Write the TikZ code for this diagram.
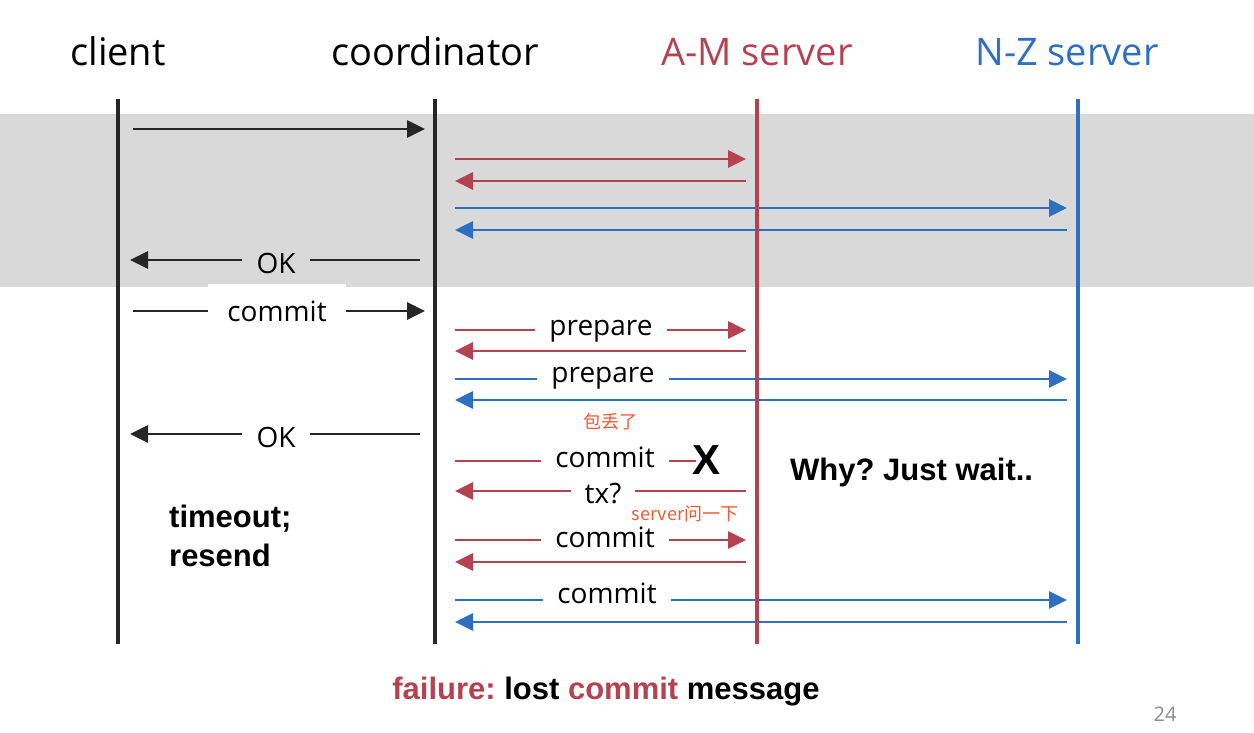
\documentclass[tikz,border=0pt]{standalone}
\usepackage{fontspec}
\setmainfont{Open Sans}
\newfontfamily\arialfont{Liberation Sans}
\newfontfamily\cjk{Noto Sans CJK SC}
\usetikzlibrary{arrows.meta}
\definecolor{amred}{RGB}{180,66,80}
\definecolor{nzblue}{RGB}{47,111,191}
\definecolor{lifeblack}{RGB}{38,38,38}
\definecolor{bandgrey}{RGB}{217,217,217}
\definecolor{noteorange}{RGB}{238,90,54}
\definecolor{pagegrey}{RGB}{140,140,140}
\frenchspacing
\begin{document}
\begin{tikzpicture}[x=1pt,y=-1pt,
  life/.style={line width=4.5pt},
  msg/.style={line width=2.8pt},
  tip/.style={-{Triangle[length=18pt,width=17pt]}},
  lbl/.style={font=\fontsize{28}{28}\selectfont, inner xsep=14pt, inner ysep=0pt, anchor=base, text=black},
  head/.style={font=\fontsize{38}{38}\selectfont, anchor=base, inner sep=0pt},
  boldtxt/.style={font=\arialfont\bfseries\fontsize{31}{31}\selectfont, inner sep=0pt},
  note/.style={font=\cjk\fontsize{18}{18}\selectfont, text=noteorange, anchor=base, inner sep=0pt}]
\useasboundingbox (0,0) rectangle (1254,732);
\fill[bandgrey] (0,114) rectangle (1254,287);

% headers
\node[head] (hClient) at (118,65) {client};
\node[head] (hCoord) at (435,65) {coordinator};
\node[head, text=amred] (hAM) at (757,65) {A-M server};
\node[head, text=nzblue] (hNZ) at (1067,65) {N-Z server};

% message 1
\coordinate (m1s) at (133,129); \coordinate (m1e) at (425,129);
\draw[msg, lifeblack, tip] (m1s) -- (m1e);
% messages 2-5
\coordinate (m2s) at (455,159); \coordinate (m2e) at (746,159);
\draw[msg, amred, tip] (m2s) -- (m2e);
\coordinate (m3s) at (746,181); \coordinate (m3e) at (455,181);
\draw[msg, amred, tip] (m3s) -- (m3e);
\coordinate (m4s) at (455,208); \coordinate (m4e) at (1067,208);
\draw[msg, nzblue, tip] (m4s) -- (m4e);
\coordinate (m5s) at (1067,230); \coordinate (m5e) at (455,230);
\draw[msg, nzblue, tip] (m5s) -- (m5e);

% message 6: OK
\coordinate (m6s) at (420,260); \coordinate (m6e) at (130,260);
\node[lbl] (l6) at (276,273) {OK};
\draw[msg, lifeblack] (m6s) -- (m6s -| l6.east);
\draw[msg, lifeblack, tip] (m6s -| l6.west) -- (m6e);

% message 7: commit
\coordinate (m7s) at (133,311); \coordinate (m7e) at (425,311);
\node[lbl, fill=white, inner ysep=16pt, inner xsep=19pt] (l7) at (277,321) {commit};
\draw[msg, lifeblack] (m7s) -- (m7s -| l7.west);
\draw[msg, lifeblack, tip] (m7s -| l7.east) -- (m7e);

% message 8: prepare (A-M)
\coordinate (m8s) at (455,330); \coordinate (m8e) at (746,330);
\node[lbl] (l8) at (601,335) {prepare};
\draw[msg, amred] (m8s) -- (m8s -| l8.west);
\draw[msg, amred, tip] (m8s -| l8.east) -- (m8e);
\coordinate (m9s) at (746,351); \coordinate (m9e) at (455,351);
\draw[msg, amred, tip] (m9s) -- (m9e);

% message 10: prepare (N-Z)
\coordinate (m10s) at (455,379); \coordinate (m10e) at (1067,379);
\node[lbl] (l10) at (603,382) {prepare};
\draw[msg, nzblue] (m10s) -- (m10s -| l10.west);
\draw[msg, nzblue, tip] (m10s -| l10.east) -- (m10e);
\coordinate (m11s) at (1067,400); \coordinate (m11e) at (455,400);
\draw[msg, nzblue, tip] (m11s) -- (m11e);

% message 12: OK
\coordinate (m12s) at (420,434); \coordinate (m12e) at (130,434);
\node[lbl] (l12) at (276,447) {OK};
\draw[msg, lifeblack] (m12s) -- (m12s -| l12.east);
\draw[msg, lifeblack, tip] (m12s -| l12.west) -- (m12e);

% message 13: lost commit
\node[note] (n1) at (610,428) {包丢了};
\coordinate (m13s) at (455,461);
\node[lbl] (l13) at (605,467) {commit};
\node[boldtxt, font=\arialfont\bfseries\fontsize{42}{42}\selectfont, anchor=base] (lost) at (707,474) {X};
\draw[msg, amred] (m13s) -- (m13s -| l13.west);
\draw[msg, amred] (m13s -| l13.east) -- ([xshift=3pt]m13s -| lost.west);

% message 14: tx?
\coordinate (m14s) at (746,491); \coordinate (m14e) at (455,491);
\node[lbl] (l14) at (603,503) {tx?};
\draw[msg, amred] (m14s) -- (m14s -| l14.east);
\draw[msg, amred, tip] (m14s -| l14.west) -- (m14e);
\node[note] (n2) at (685,520) {server问一下};

% message 15: commit (A-M)
\coordinate (m15s) at (455,540); \coordinate (m15e) at (746,540);
\node[lbl] (l15) at (605,547) {commit};
\draw[msg, amred] (m15s) -- (m15s -| l15.west);
\draw[msg, amred, tip] (m15s -| l15.east) -- (m15e);
\coordinate (m16s) at (746,562); \coordinate (m16e) at (455,562);
\draw[msg, amred, tip] (m16s) -- (m16e);

% message 17: commit (N-Z)
\coordinate (m17s) at (455,600); \coordinate (m17e) at (1067,600);
\node[lbl] (l17) at (607,603) {commit};
\draw[msg, nzblue] (m17s) -- (m17s -| l17.west);
\draw[msg, nzblue, tip] (m17s -| l17.east) -- (m17e);
\coordinate (m18s) at (1067,622); \coordinate (m18e) at (455,622);
\draw[msg, nzblue, tip] (m18s) -- (m18e);

% lifelines
\coordinate (cT) at (118,99); \coordinate (cB) at (118,644);
\coordinate (oT) at (435,99); \coordinate (oB) at (435,644);
\coordinate (aT) at (757,99); \coordinate (aB) at (757,644);
\coordinate (zT) at (1078,99); \coordinate (zB) at (1078,644);
\draw[life, lifeblack] (cT) -- (cB);
\draw[life, lifeblack] (oT) -- (oB);
\draw[life, amred] (aT) -- (aB);
\draw[life, nzblue] (zT) -- (zB);

% annotations
\node[boldtxt, anchor=base west] (t1) at (169,527) {timeout;};
\node[boldtxt, anchor=base west] (t2) at (169,566) {resend};
\node[boldtxt, anchor=base west] (why) at (790,480) {Why? Just wait..};
\node[boldtxt, anchor=base] (fail) at (606,699) {{\color{amred}failure:} lost {\color{amred}commit} message};
\node[font=\fontsize{20}{20}\selectfont, text=pagegrey, anchor=base, inner sep=0pt] (pg) at (1165,721) {24};
\end{tikzpicture}
\end{document}
